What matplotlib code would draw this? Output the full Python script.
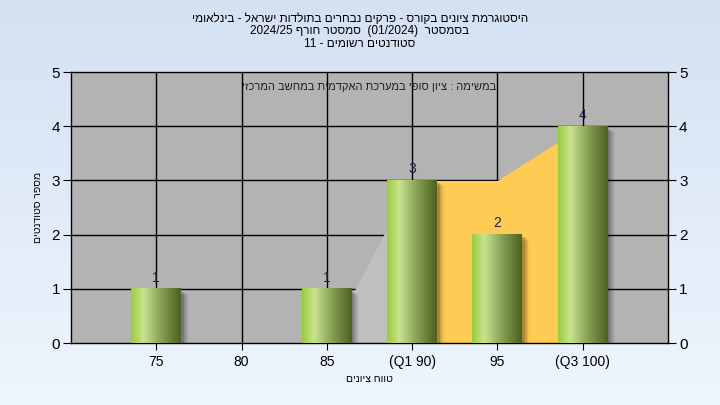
import re
import numpy as np
import matplotlib.pyplot as plt
from matplotlib.patches import Rectangle
from matplotlib.colors import LinearSegmentedColormap

plt.rcParams['font.family'] = ['Liberation Sans', 'DejaVu Sans']

# data
categories = ['75', '80', '85', '(Q1 90)', '95', '(Q3 100)']
counts = [1, 0, 1, 3, 2, 4]
# background areas: below Q1 (gray) and Q1..Q3 band (orange)
low_x = [2, 3]
low_y = [0, 3]
band_x = [3, 4, 5]
band_y = [3, 3, 4]

title_lines = ["היסטוגרמת ציונים בקורס - פרקים נבחרים בתולדות ישראל - בינלאומי",
               "בסמסטר  (01/2024)  סמסטר חורף 2024/25",
               "סטודנטים רשומים - 11"]
note = "במשימה : ציון סופי במערכת האקדמית במחשב המרכזי"
xlabel = "טווח ציונים"
ylabel = "מספר סטודנטים"


def rtl(s):
    # matplotlib has no bidi: lay the line out right-to-left by hand
    s = s[::-1]
    s = re.sub(r'[0-9A-Za-z/.]+', lambda m: m.group(0)[::-1], s)
    return s.translate(str.maketrans('()', ')('))


fig = plt.figure(figsize=(7.2, 4.05), dpi=100)

# figure background gradient
bg = fig.add_axes([0, 0, 1, 1], zorder=-10)
grad = np.linspace(0, 1, 256).reshape(-1, 1)
bgcm = LinearSegmentedColormap.from_list('bg', ['#d4e1f3', '#eef5fd'])
bg.imshow(grad, aspect='auto', cmap=bgcm, extent=[0, 1, 0, 1], origin='upper')
bg.axis('off')

ax = fig.add_axes([0.0986, 0.153, 0.829, 0.669])
ax.set_facecolor('#b3b3b3')

x = np.arange(len(categories))
for xi in x:
    ax.axvline(xi, color='black', lw=1.0, zorder=1)
for yi in range(1, 5):
    ax.axhline(yi, color='black', lw=1.0, zorder=1)

# areas
ax.fill_between(low_x, low_y, 0, color='#bfbfbf', lw=0, zorder=2)
ax.fill_between(band_x, band_y, 0, color='#fecc55', lw=0, zorder=2)

# gradient bars
w = 0.586
barcm = LinearSegmentedColormap.from_list('bar', [(0, '#9ccb3c'), (0.25, '#c8e38e'),
                                                  (0.6, '#87a054'), (1, '#4a6120')])
hgrad = np.linspace(0, 1, 256).reshape(1, -1)
for xi, c in zip(x, counts):
    if c == 0:
        continue
    # soft shadow
    for k, a in enumerate([0.16, 0.11, 0.07, 0.04]):
        sh = Rectangle((xi - w / 2 + 0.03 + k * 0.02, 0), w, c - 0.05 - k * 0.02,
                       color='black', alpha=a, lw=0, zorder=3)
        ax.add_patch(sh)
    ax.imshow(hgrad, aspect='auto', cmap=barcm,
              extent=[xi - w / 2, xi + w / 2, 0, c], zorder=4)
    ax.text(xi, c + 0.08, str(c), ha='center', va='bottom', fontsize=10,
            color='#202040', zorder=5)
ax.set_xlim(-1, 6)
ax.set_ylim(0, 5)

ax.set_xticks(x)
ax.set_xticklabels(categories, fontsize=10)
ax.set_yticks(range(6))
ax.tick_params(axis='y', labelsize=11, length=6, right=True, labelright=True, pad=2)
ax.tick_params(axis='x', length=5)
for s in ax.spines.values():
    s.set_color('black')
    s.set_linewidth(1.0)

ax.set_ylabel(rtl(ylabel), fontsize=7.5, labelpad=6)
ax.set_xlabel(rtl(xlabel), fontsize=7.5, labelpad=4)
ax.text(0.5, 0.945, rtl(note), transform=ax.transAxes, ha='center', va='center',
        fontsize=8, color='#202020', zorder=6)

fig.text(0.5, 0.968, '\n'.join(rtl(t) for t in title_lines),
         ha='center', va='top', fontsize=8.5, linespacing=1.05)

fig.savefig('out.png', dpi=100)
